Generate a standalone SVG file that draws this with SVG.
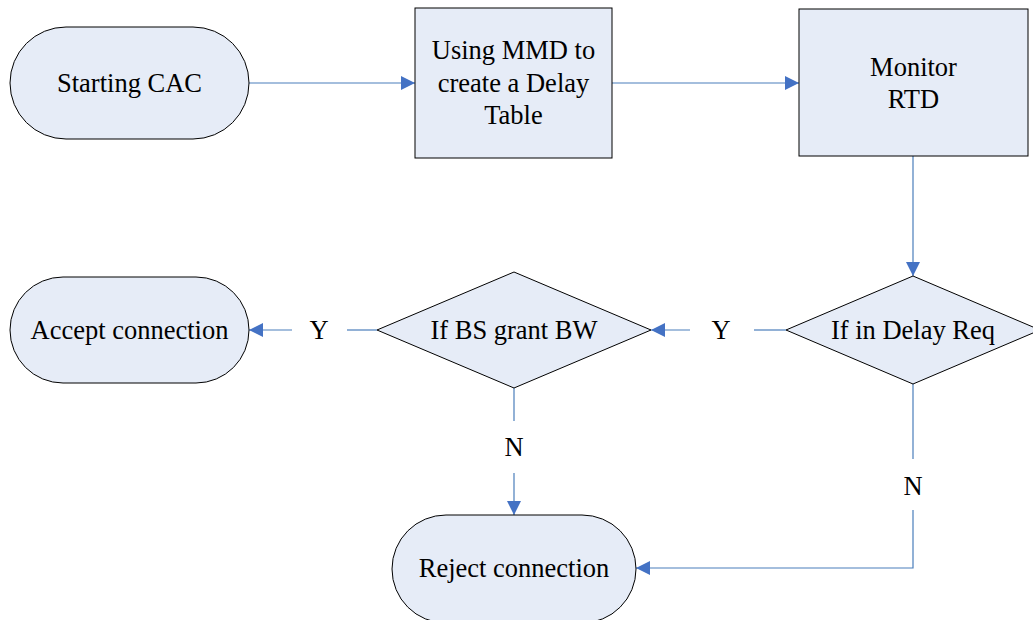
<svg xmlns="http://www.w3.org/2000/svg" width="1033" height="620" viewBox="0 0 1033 620">
<style>
.n{fill:#e6ecf7;stroke:#000;stroke-width:1}
.t{font-family:"Liberation Serif",serif;font-size:26.5px;fill:#000;text-anchor:middle}
.c{fill:none;stroke:#4a7ebb;stroke-width:1.2}
</style>
<defs>
<marker id="a" viewBox="0 0 10 10" refX="10" refY="5" markerWidth="14" markerHeight="14" markerUnits="userSpaceOnUse" orient="auto">
<path d="M0,0 L10,5 L0,10 Z" fill="#4472c4"/>
</marker>
</defs>
<rect width="1033" height="620" fill="#fff"/>
<g id="connectors">
<line class="c" x1="249" y1="83" x2="415" y2="83" marker-end="url(#a)"/>
<line class="c" x1="612" y1="83" x2="799" y2="83" marker-end="url(#a)"/>
<line class="c" x1="913" y1="156" x2="913" y2="276" marker-end="url(#a)"/>
<line class="c" x1="786" y1="330" x2="754" y2="330"/>
<line class="c" x1="690" y1="330" x2="651" y2="330" marker-end="url(#a)"/>
<text class="t" x="721" y="339">Y</text>
<line class="c" x1="377" y1="330" x2="347" y2="330"/>
<line class="c" x1="292" y1="330" x2="249" y2="330" marker-end="url(#a)"/>
<text class="t" x="319" y="339">Y</text>
<line class="c" x1="514" y1="388" x2="514" y2="421"/>
<line class="c" x1="514" y1="473" x2="514" y2="515" marker-end="url(#a)"/>
<text class="t" x="514" y="456">N</text>
<line class="c" x1="913" y1="384" x2="913" y2="459"/>
<polyline class="c" points="913,510 913,568 636,568" marker-end="url(#a)"/>
<text class="t" x="913" y="495">N</text>
</g>
<g id="start">
<rect class="n" x="10" y="27" width="239" height="112" rx="56" ry="56"/>
<text class="t" x="129.5" y="92">Starting CAC</text>
</g>
<g id="mmd">
<rect class="n" x="415" y="8" width="197" height="150"/>
<text class="t" x="513.5" y="59">Using MMD to</text>
<text class="t" x="513.5" y="92">create a Delay</text>
<text class="t" x="513.5" y="124">Table</text>
</g>
<g id="monitor">
<rect class="n" x="799" y="9" width="229" height="147"/>
<text class="t" x="913.5" y="76">Monitor</text>
<text class="t" x="913.5" y="108">RTD</text>
</g>
<g id="delayreq">
<polygon class="n" points="913,276 1040,330 913,384 786,330"/>
<text class="t" x="913" y="339">If in Delay Req</text>
</g>
<g id="bsgrant">
<polygon class="n" points="514,272 651,330 514,388 377,330"/>
<text class="t" x="514" y="339">If BS grant BW</text>
</g>
<g id="accept">
<rect class="n" x="10" y="277" width="239" height="106" rx="53" ry="53"/>
<text class="t" x="129.5" y="339">Accept connection</text>
</g>
<g id="reject">
<rect class="n" x="392" y="515" width="244" height="108" rx="54" ry="54"/>
<text class="t" x="514" y="577">Reject connection</text>
</g>
</svg>
